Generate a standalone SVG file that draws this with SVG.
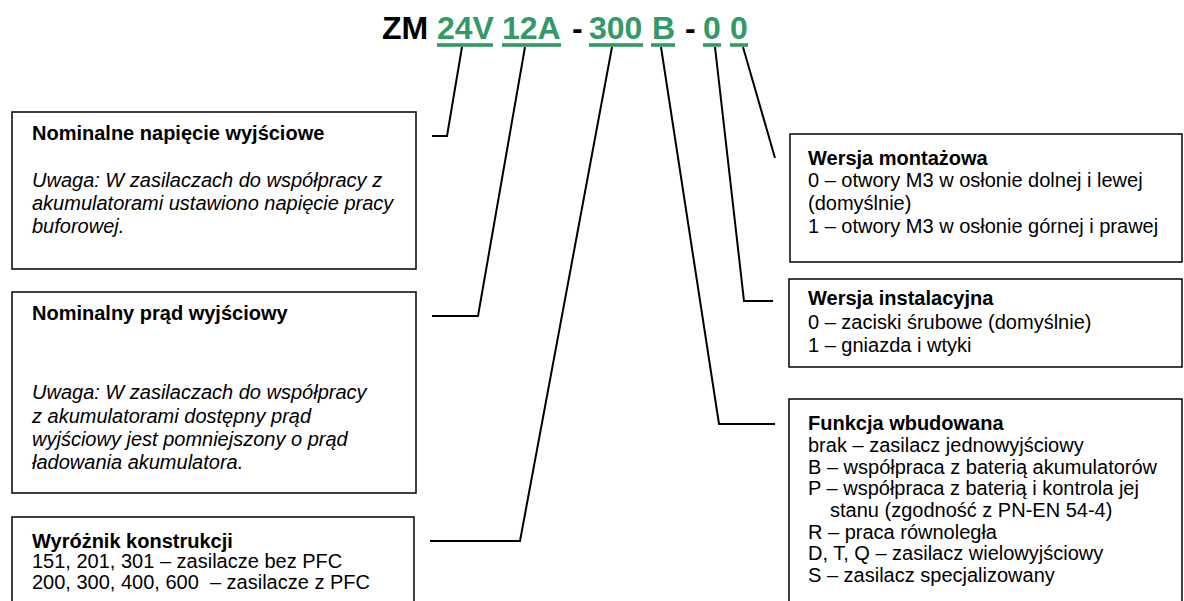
<svg xmlns="http://www.w3.org/2000/svg" width="1184" height="601" viewBox="0 0 1184 601">
<style>
text{font-family:"Liberation Sans",Arial,sans-serif;font-size:20px;fill:#000}
.t{font-size:32px;font-weight:bold}
.g{fill:#339966}
.b{font-weight:bold}
.i{font-style:italic}
.box{fill:#fff;stroke:#000;stroke-width:1.5}
.ul{fill:#339966}
.c{fill:none;stroke:#000;stroke-width:2}
</style>
<rect width="1184" height="601" fill="#fff"/>
<g id="title">
<text class="t" y="39"><tspan x="382">ZM</tspan><tspan class="g" x="437">24V</tspan><tspan class="g" x="502">12A</tspan><tspan x="572">-</tspan><tspan class="g" x="589">300</tspan><tspan class="g" x="652">B</tspan><tspan x="685">-</tspan><tspan class="g" x="703">0</tspan><tspan class="g" x="730">0</tspan></text>
<rect class="ul" x="437" y="43.2" width="56" height="3.6"/>
<rect class="ul" x="502" y="43.2" width="59" height="3.6"/>
<rect class="ul" x="589" y="43.2" width="54" height="3.6"/>
<rect class="ul" x="651" y="43.2" width="24" height="3.6"/>
<rect class="ul" x="703" y="43.2" width="18" height="3.6"/>
<rect class="ul" x="730" y="43.2" width="18" height="3.6"/>
</g>
<g id="connectors">
<polyline class="c" points="462,47 447,136 432,136"/>
<polyline class="c" points="525,47 478,316 432,316"/>
<polyline class="c" points="612,47 520,541 430,541"/>
<polyline class="c" points="661,47 719,424 775,424"/>
<polyline class="c" points="715,47 744,301 773,301"/>
<polyline class="c" points="743,47 775,158"/>
</g>
<g id="napiecie">
<rect class="box" x="12" y="112" width="404" height="157"/>
<text class="b" x="32" y="140">Nominalne napięcie wyjściowe</text>
<text class="i" x="32" y="187">Uwaga: W zasilaczach do współpracy z</text>
<text class="i" x="32" y="210">akumulatorami ustawiono napięcie pracy</text>
<text class="i" x="32" y="233">buforowej.</text>
</g>
<g id="prad">
<rect class="box" x="12" y="292" width="404" height="201"/>
<text class="b" x="32" y="320">Nominalny prąd wyjściowy</text>
<text class="i" x="32" y="399">Uwaga: W zasilaczach do współpracy</text>
<text class="i" x="32" y="422.5">z akumulatorami dostępny prąd</text>
<text class="i" x="32" y="446">wyjściowy jest pomniejszony o prąd</text>
<text class="i" x="32" y="469">ładowania akumulatora.</text>
</g>
<g id="konstrukcja">
<rect class="box" x="12" y="517" width="402" height="100"/>
<text class="b" x="32" y="547.5">Wyróżnik konstrukcji</text>
<text x="32" y="568">151, 201, 301 – zasilacze bez PFC</text>
<text x="32" y="588.5" xml:space="preserve">200, 300, 400, 600  – zasilacze z PFC</text>
</g>
<g id="montaz">
<rect class="box" x="790" y="134" width="392" height="128"/>
<text class="b" x="808" y="165">Wersja montażowa</text>
<text x="808" y="187">0 – otwory M3 w osłonie dolnej i lewej</text>
<text x="808" y="210">(domyślnie)</text>
<text x="808" y="233">1 – otwory M3 w osłonie górnej i prawej</text>
</g>
<g id="instalacja">
<rect class="box" x="789" y="279" width="393" height="88"/>
<text class="b" x="808" y="305">Wersja instalacyjna</text>
<text x="808" y="329">0 – zaciski śrubowe (domyślnie)</text>
<text x="808" y="352">1 – gniazda i wtyki</text>
</g>
<g id="funkcja">
<rect class="box" x="789" y="399" width="393" height="220"/>
<text class="b" x="808" y="430">Funkcja wbudowana</text>
<text x="808" y="452">brak – zasilacz jednowyjściowy</text>
<text x="808" y="473.5">B – współpraca z baterią akumulatorów</text>
<text x="808" y="495">P – współpraca z baterią i kontrola jej</text>
<text x="830" y="516.5">stanu (zgodność z PN-EN 54-4)</text>
<text x="808" y="538.5">R – praca równoległa</text>
<text x="808" y="560">D, T, Q – zasilacz wielowyjściowy</text>
<text x="808" y="582">S – zasilacz specjalizowany</text>
</g>
</svg>
